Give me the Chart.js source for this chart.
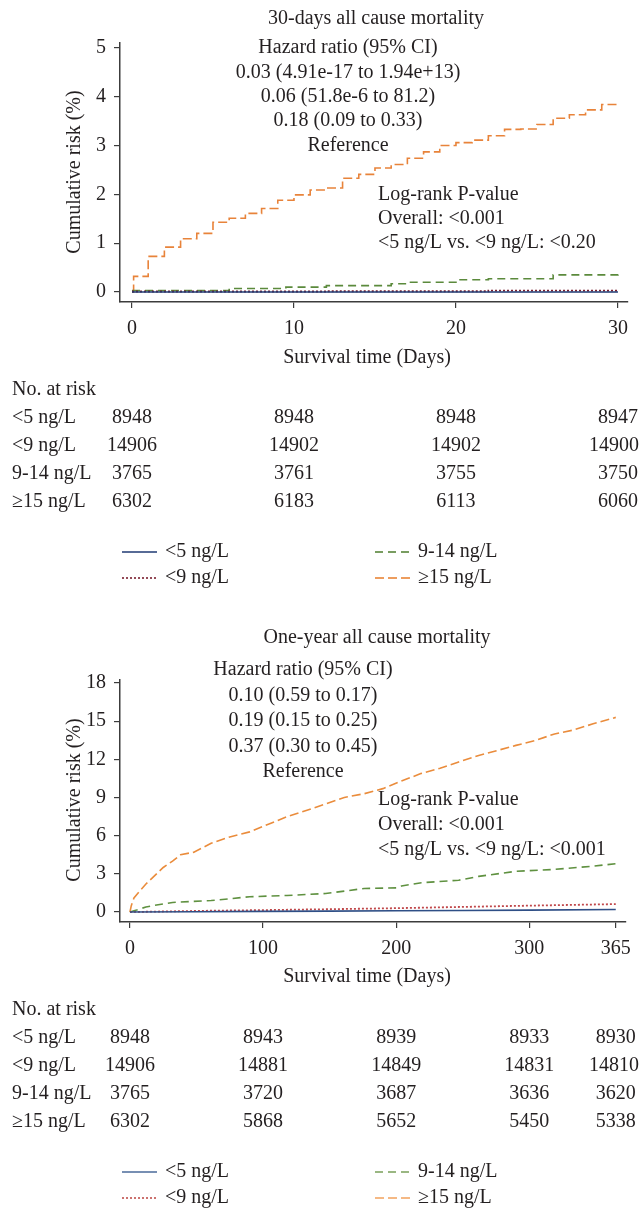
<!DOCTYPE html>
<html><head><meta charset="utf-8">
<script src="https://cdn.jsdelivr.net/npm/chart.js@4.4.0/dist/chart.umd.min.js"></script>
<style>
html,body{margin:0;padding:0;background:#fff;}
#wrap{position:relative;width:640px;height:1208px;overflow:hidden;}
.box{position:absolute;left:0;width:640px;}
</style></head><body>
<div id="wrap">
<div class="box" style="top:0;height:620px"><canvas id="c1" width="640" height="620"></canvas></div>
<div class="box" style="top:620px;height:588px"><canvas id="c2" width="640" height="588"></canvas></div>
</div>
<script>
// ---------- shared ----------
const groupLabels = ['<5 ng/L', '<9 ng/L', '9-14 ng/L', '\u226515 ng/L'];

// ---------- 30-day chart ----------
const d30_xTicks = [0, 10, 20, 30];
const d30_yTicks = [0, 1, 2, 3, 4, 5];
const d30_t_lt5 = [0, 30];
const d30_v_lt5 = [0, 0];
const d30_t_lt9 = [0, 12, 22, 30];
const d30_v_lt9 = [0.01, 0.015, 0.03, 0.035];
const d30_t_914 = [0, 6, 9.5, 12, 16, 17, 20, 22, 26, 30];
const d30_v_914 = [0.03, 0.07, 0.1, 0.13, 0.17, 0.2, 0.25, 0.27, 0.35, 0.38];
const d30_t_ge15 = [0, 0.1, 1, 2, 3, 4, 5, 6, 7, 8, 9, 10, 11, 12, 13, 14, 15, 16, 17, 18, 19, 20, 21, 22, 23, 24, 25, 26, 27, 28, 29, 30];
const d30_v_ge15 = [0, 0.32, 0.73, 0.92, 1.09, 1.2, 1.43, 1.51, 1.61, 1.71, 1.88, 1.99, 2.09, 2.13, 2.33, 2.41, 2.54, 2.61, 2.74, 2.87, 3.0, 3.06, 3.11, 3.2, 3.33, 3.34, 3.43, 3.56, 3.63, 3.73, 3.84, 3.84];
const d30_riskTimes = [0, 10, 20, 30];
const d30_risk_lt5 = [8948, 8948, 8948, 8947];
const d30_risk_lt9 = [14906, 14902, 14902, 14900];
const d30_risk_914 = [3765, 3761, 3755, 3750];
const d30_risk_ge15 = [6302, 6183, 6113, 6060];
const d30_hr = ['Hazard ratio (95% CI)', '0.03 (4.91e-17 to 1.94e+13)', '0.06 (51.8e-6 to 81.2)', '0.18 (0.09 to 0.33)', 'Reference'];
const d30_lr = ['Log-rank P-value', 'Overall: <0.001', '<5 ng/L vs. <9 ng/L: <0.20'];

// ---------- one-year chart ----------
const d365_xTicks = [0, 100, 200, 300, 365];
const d365_yTicks = [0, 3, 6, 9, 12, 15, 18];
const d365_t_lt5 = [0, 50, 100, 150, 200, 250, 300, 365];
const d365_v_lt5 = [0, 0.02, 0.05, 0.07, 0.1, 0.12, 0.15, 0.2];
const d365_t_lt9 = [0, 30, 60, 100, 150, 200, 250, 300, 365];
const d365_v_lt9 = [0, 0.05, 0.1, 0.15, 0.22, 0.3, 0.4, 0.5, 0.62];
const d365_t_914 = [0, 5, 12, 20, 32, 61, 90, 118, 147, 176, 200, 204, 219, 247, 262, 290, 319, 348, 365];
const d365_v_914 = [0, 0.15, 0.4, 0.55, 0.75, 0.9, 1.2, 1.3, 1.45, 1.85, 1.9, 2.05, 2.3, 2.5, 2.8, 3.2, 3.35, 3.6, 3.8];
const d365_t_ge15 = [0, 1, 3, 7, 12, 18, 25, 32, 38, 48, 61, 75, 90, 104, 118, 133, 147, 161, 176, 190, 204, 219, 233, 247, 262, 276, 290, 305, 319, 333, 348, 365];
const d365_v_ge15 = [0, 0.5, 1.1, 1.6, 2.2, 2.8, 3.5, 4.0, 4.5, 4.7, 5.4, 5.9, 6.3, 6.9, 7.5, 8.0, 8.5, 9.0, 9.3, 9.7, 10.3, 10.9, 11.3, 11.8, 12.3, 12.7, 13.1, 13.5, 14.0, 14.3, 14.8, 15.3];
const d365_riskTimes = [0, 100, 200, 300, 365];
const d365_risk_lt5 = [8948, 8943, 8939, 8933, 8930];
const d365_risk_lt9 = [14906, 14881, 14849, 14831, 14810];
const d365_risk_914 = [3765, 3720, 3687, 3636, 3620];
const d365_risk_ge15 = [6302, 5868, 5652, 5450, 5338];
const d365_hr = ['Hazard ratio (95% CI)', '0.10 (0.59 to 0.17)', '0.19 (0.15 to 0.25)', '0.37 (0.30 to 0.45)', 'Reference'];
const d365_lr = ['Log-rank P-value', 'Overall: <0.001', '<5 ng/L vs. <9 ng/L: <0.001'];

const FONT = "'Liberation Serif','Times New Roman',serif";
const TXT = '#231f20';
const AX = '#3c3c3c';
const dashes = [[], [2, 2], [8, 5], [9, 4]];

const textPlugin = {
  id: 'kmtexts',
  afterDraw(chart, args, o) {
    const c = chart.ctx, xs = chart.scales.x;
    c.save();
    c.fillStyle = TXT;
    c.textBaseline = 'middle';
    c.font = o.fs + 'px ' + FONT;
    c.textAlign = 'center';
    c.fillText(o.title, o.titleX, o.titleY);
    o.hr.forEach((s, i) => c.fillText(s, o.hrX, o.hrY + i * o.lh));
    c.fillText('Survival time (Days)', o.xTitleX, o.xTitleY);
    c.save();
    c.translate(o.yTitleX, o.yTitleY);
    c.rotate(-Math.PI / 2);
    c.fillText('Cumulative risk (%)', 0, 0);
    c.restore();
    c.textAlign = 'left';
    o.lr.forEach((s, i) => c.fillText(s, o.lrX, o.lrY + i * o.lrH));
    // risk table
    c.fillText('No. at risk', 12, o.tableY);
    o.atRisk.forEach((row, i) => {
      const y = o.tableY + (i + 1) * o.rowH;
      c.textAlign = 'left';
      c.fillText(groupLabels[i], 12, y);
      c.textAlign = 'center';
      row.forEach((n, j) => {
        const s = String(n);
        const w = c.measureText(s).width;
        const px = Math.min(xs.getPixelForValue(o.riskTimes[j]), chart.width - w / 2 - 1);
        c.fillText(s, px, y);
      });
    });
    // legend
    const pos = [[0, 0], [0, 1], [1, 0], [1, 1]];
    chart.data.datasets.forEach((ds, i) => {
      const colX = o.legX[pos[i][0]];
      const y = o.legY + pos[i][1] * o.legH;
      c.save();
      c.strokeStyle = o.legColors[i];
      c.lineWidth = 1.6;
      c.setLineDash(dashes[i]);
      c.beginPath();
      c.moveTo(colX, y);
      c.lineTo(colX + 35, y);
      c.stroke();
      c.restore();
      c.textAlign = 'left';
      c.fillText(ds.label, colX + 43, y);
    });
    c.restore();
  }
};

function makeChart(id, o) {
  const datasets = o.series.map((s, i) => ({
    label: groupLabels[i],
    data: s.t.map((t, j) => ({ x: t, y: s.v[j] })),
    borderColor: o.colors[i],
    borderWidth: i === 1 ? 1.8 : 1.6,
    borderDash: dashes[i],
    stepped: o.stepped,
    pointRadius: 0,
    fill: false,
    tension: 0
  }));
  const axisCommon = (ticksArr, fit, pad) => ({
    type: 'linear',
    afterBuildTicks: s => { s.ticks = ticksArr.map(v => ({ value: v })); },
    afterFit: fit,
    ticks: { font: { family: FONT, size: o.fs }, color: TXT, autoSkip: false, maxRotation: 0, padding: pad, callback: v => String(v) },
    grid: { display: true, drawOnChartArea: false, drawTicks: true, tickLength: 6, color: AX, lineWidth: 1.2 },
    border: { display: true, color: AX, width: 1.5 }
  });
  const x = axisCommon(o.xTicks, s => { s.height = o.H - o.bottom; }, 9);
  x.min = o.xMin; x.max = o.xMax;
  const y = axisCommon(o.yTicks, s => { s.width = 120; }, 8);
  y.min = o.yMin; y.max = o.yMax;
  return new Chart(document.getElementById(id), {
    type: 'line',
    data: { datasets },
    options: {
      responsive: false,
      animation: false,
      layout: { padding: { top: o.top, right: 12, left: 0, bottom: 0 } },
      plugins: { legend: { display: false }, tooltip: { enabled: false }, kmtexts: o.texts },
      scales: { x, y }
    },
    plugins: [textPlugin]
  });
}

makeChart('c1', {
  H: 620, top: 43, bottom: 302, fs: 20,
  xMin: -0.74, xMax: 30.62, yMin: -0.205, yMax: 5.1,
  xTicks: d30_xTicks, yTicks: d30_yTicks, stepped: true,
  colors: ['#1f3a73', '#7a1f2e', '#5b8a3c', '#e8833a'],
  series: [
    { t: d30_t_lt5, v: d30_v_lt5 },
    { t: d30_t_lt9, v: d30_v_lt9 },
    { t: d30_t_914, v: d30_v_914 },
    { t: d30_t_ge15, v: d30_v_ge15 }
  ],
  texts: {
    fs: 20, title: '30-days all cause mortality', titleX: 376, titleY: 19,
    hr: d30_hr, hrX: 348, hrY: 48, lh: 24.4,
    lr: d30_lr, lrX: 378, lrY: 194.4, lrH: 24.4,
    xTitleX: 367, xTitleY: 358, yTitleX: 75, yTitleY: 172,
    tableY: 390, rowH: 28, riskTimes: d30_riskTimes,
    atRisk: [d30_risk_lt5, d30_risk_lt9, d30_risk_914, d30_risk_ge15],
    legX: [122, 375], legY: 552, legH: 26,
    legColors: ['#1f3a73', '#7a1f2e', '#4e7d2e', '#e87d2a']
  }
});

makeChart('c2', {
  H: 588, top: 60, bottom: 302, fs: 20,
  xMin: -7.48, xMax: 372.5, yMin: -0.786, yMax: 18.24,
  xTicks: d365_xTicks, yTicks: d365_yTicks, stepped: false,
  colors: ['#2f4f86', '#c0474a', '#5f9140', '#ea8c3c'],
  series: [
    { t: d365_t_lt5, v: d365_v_lt5 },
    { t: d365_t_lt9, v: d365_v_lt9 },
    { t: d365_t_914, v: d365_v_914 },
    { t: d365_t_ge15, v: d365_v_ge15 }
  ],
  texts: {
    fs: 20, title: 'One-year all cause mortality', titleX: 377, titleY: 18,
    hr: d365_hr, hrX: 303, hrY: 50, lh: 25.5,
    lr: d365_lr, lrX: 378, lrY: 180, lrH: 25,
    xTitleX: 367, xTitleY: 357, yTitleX: 75, yTitleY: 180,
    tableY: 390, rowH: 28, riskTimes: d365_riskTimes,
    atRisk: [d365_risk_lt5, d365_risk_lt9, d365_risk_914, d365_risk_ge15],
    legX: [122, 375], legY: 552, legH: 26,
    legColors: ['#4a6a9a', '#c0504d', '#7aa05a', '#f2a25e']
  }
});
</script>
</body></html>
